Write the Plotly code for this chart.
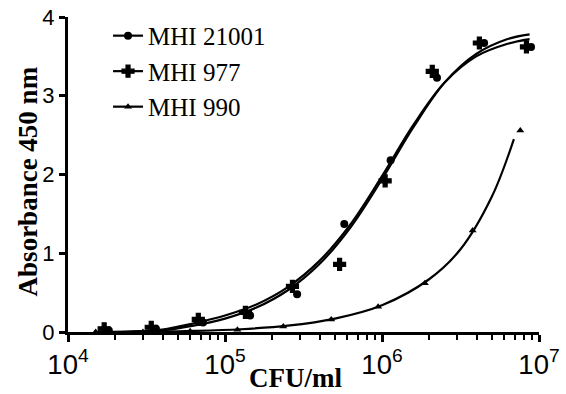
import plotly.graph_objects as go

# ---- data ----
x_21001 = [18200, 36300, 72400, 144500, 288000, 575000, 1135000, 2240000, 4470000, 8900000]
y_21001 = [0.02, 0.04, 0.12, 0.21, 0.48, 1.37, 2.18, 3.23, 3.67, 3.62]

x_977 = [17000, 33900, 67600, 134900, 269000, 537000, 1047000, 2090000, 4170000, 8320000]
y_977 = [0.04, 0.06, 0.16, 0.25, 0.58, 0.86, 1.92, 3.31, 3.67, 3.62]

x_990 = [15000, 30000, 60000, 120000, 235000, 475000, 945000, 1875000, 3780000, 7600000]
y_990 = [0.0, 0.0, 0.01, 0.03, 0.07, 0.16, 0.32, 0.62, 1.29, 2.56]

# fitted curves
fit_x_top = [17000, 25100, 39800, 63100, 100000, 158500, 251200, 398100, 631000,
             1000000, 1585000, 2512000, 3981000, 6310000, 8710000]
fit_21001 = [0.0, 0.005, 0.03, 0.11, 0.21, 0.35, 0.57, 0.90, 1.37, 1.98, 2.63, 3.17, 3.50, 3.66, 3.72]
fit_977 = [0.0, 0.003, 0.02, 0.08, 0.17, 0.31, 0.53, 0.86, 1.33, 1.94, 2.60, 3.17, 3.53, 3.72, 3.78]

fit_x_990 = [15000, 31600, 63100, 125900, 251200, 501200, 1000000, 1995000, 3162000, 5012000, 6920000]
fit_990 = [0.0, 0.004, 0.014, 0.035, 0.08, 0.17, 0.34, 0.67, 1.05, 1.72, 2.45]

names = ["MHI 21001", "MHI 977", "MHI 990"]
symbols = ["circle", "cross", "triangle-up"]
msizes = [8, 10, 7]
mlines = [0, 1.2, 0]

fig = go.Figure()
line_style = dict(color="black", width=2.2, shape="spline", smoothing=1.0)

for fx, fy in [(fit_x_top, fit_21001), (fit_x_top, fit_977), (fit_x_990, fit_990)]:
    fig.add_trace(go.Scatter(x=fx, y=fy, mode="lines", line=line_style,
                             showlegend=False, hoverinfo="skip"))

for xs, ys, sym, ms, ml in [(x_21001, y_21001, symbols[0], msizes[0], mlines[0]),
                            (x_977, y_977, symbols[1], msizes[1], mlines[1]),
                            (x_990, y_990, symbols[2], msizes[2], mlines[2])]:
    fig.add_trace(go.Scatter(x=xs, y=ys, mode="markers", showlegend=False,
                             marker=dict(symbol=sym, size=ms, color="black",
                                         line=dict(width=ml, color="black"))))

# legend entries
for nm, sym, ms, ml in zip(names, symbols, msizes, mlines):
    fig.add_trace(go.Scatter(x=[None], y=[None], mode="lines+markers", name=nm,
                             line=dict(color="black", width=2.2),
                             marker=dict(symbol=sym, size=ms, color="black",
                                         line=dict(width=ml, color="black"))))

serif = "Liberation Serif, Times New Roman, serif"
sans = "Liberation Sans, Arial, sans-serif"

fig.update_layout(
    width=566, height=394,
    margin=dict(l=68, r=27, t=17, b=62, autoexpand=False),
    paper_bgcolor="white", plot_bgcolor="white",
    showlegend=True,
    legend=dict(x=0.085, y=1.013, xanchor="left", yanchor="top",
                font=dict(family=serif, size=25, color="black"),
                bgcolor="rgba(0,0,0,0)", tracegroupgap=0, itemwidth=30),
    xaxis=dict(type="log", range=[4, 7], dtick=1, exponentformat="power",
               automargin=False,
               showline=True, linecolor="black", linewidth=3,
               ticks="outside", ticklen=7, tickwidth=2.5, tickcolor="black",
               minor=dict(ticks="outside", ticklen=5, tickwidth=2, tickcolor="black", dtick="D1"),
               showgrid=False, zeroline=False,
               tickfont=dict(family=sans, size=22, color="black")),
    yaxis=dict(range=[0, 4], dtick=1,
               automargin=False,
               showline=True, linecolor="black", linewidth=3,
               ticks="outside", ticklen=6, tickwidth=2.5, tickcolor="black",
               showgrid=False, zeroline=False,
               tickfont=dict(family=sans, size=22, color="black")),
    annotations=[
        dict(text="<b>Absorbance 450 nm</b>", textangle=-90,
             xref="paper", yref="paper", x=-0.085, y=0.478,
             xanchor="center", yanchor="middle", showarrow=False,
             font=dict(family=serif, size=27, color="black")),
        dict(text="<b>CFU/ml</b>",
             xref="paper", yref="paper", x=0.484, y=-0.145,
             xanchor="center", yanchor="middle", showarrow=False,
             font=dict(family=serif, size=27, color="black")),
    ],
)

fig.write_html("out.html")
